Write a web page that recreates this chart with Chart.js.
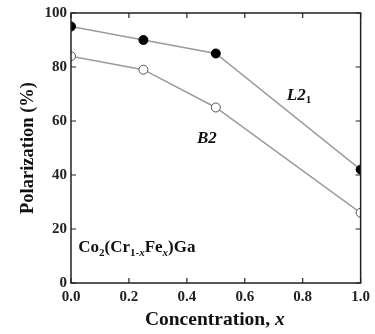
<!DOCTYPE html>
<html>
<head>
<meta charset="utf-8">
<script src="https://cdn.jsdelivr.net/npm/chart.js@4"></script>
<style>
  html, body { margin: 0; padding: 0; background: #fff; }
</style>
</head>
<body>
<canvas id="chart" width="375" height="334"></canvas>
<script>
// composition x and spin polarization (%)
const concentration = [0.0, 0.25, 0.5, 1.0]
const polL21 = [95, 90, 85, 42]
const polB2 = [84, 79, 65, 26]
const xTicks = [0.0, 0.2, 0.4, 0.6, 0.8, 1.0]
const yTicks = [0, 20, 40, 60, 80, 100]

const serif = "'Liberation Serif', 'Times New Roman', serif"

function toPoints(xs, ys) {
    return xs.map((x, i) => ({ x: x, y: ys[i] }))
}

// draw pieces of mixed-style text one after another, return end x
function drawRuns(ctx, parts, x, y) {
    for (const [s, size, italic, dy] of parts) {
        ctx.font = (italic ? "italic " : "") + "bold " + size + "px " + serif
        ctx.fillText(s, x, y + dy)
        x += ctx.measureText(s).width
    }
    return x
}

function runsWidth(ctx, parts) {
    let w = 0
    for (const [s, size, italic] of parts) {
        ctx.font = (italic ? "italic " : "") + "bold " + size + "px " + serif
        w += ctx.measureText(s).width
    }
    return w
}

// frame with inward ticks on all four sides, plus the in-plot labels
const framePlugin = {
    id: "frame",
    afterDatasetsDraw(chart) {
        const { ctx, chartArea: a, scales } = chart
        const xs = scales.x, ys = scales.y
        const len = 5
        ctx.save()
        ctx.strokeStyle = "#222"
        ctx.lineWidth = 1.5
        ctx.strokeRect(a.left, a.top, a.right - a.left, a.bottom - a.top)
        ctx.lineWidth = 1.2
        ctx.beginPath()
        for (const t of xTicks) {
            const px = xs.getPixelForValue(t)
            ctx.moveTo(px, a.bottom); ctx.lineTo(px, a.bottom - len)
            ctx.moveTo(px, a.top); ctx.lineTo(px, a.top + len)
        }
        for (const t of yTicks) {
            const py = ys.getPixelForValue(t)
            ctx.moveTo(a.left, py); ctx.lineTo(a.left + len, py)
            ctx.moveTo(a.right, py); ctx.lineTo(a.right - len, py)
        }
        ctx.stroke()

        ctx.fillStyle = "#111"
        ctx.textBaseline = "middle"
        ctx.textAlign = "left"

        // L2_1
        let x = xs.getPixelForValue(0.745), y = ys.getPixelForValue(69.5)
        drawRuns(ctx, [["L2", 17, true, 0], ["1", 11, false, 5]], x, y)

        // B2
        x = xs.getPixelForValue(0.435); y = ys.getPixelForValue(53.5)
        drawRuns(ctx, [["B2", 17, true, 0]], x, y)

        // Co2(Cr1-xFex)Ga
        x = xs.getPixelForValue(0.025); y = ys.getPixelForValue(13)
        drawRuns(ctx, [
            ["Co", 17, false, 0], ["2", 11, false, 5], ["(Cr", 17, false, 0], ["1-", 11, false, 5],
            ["x", 11, true, 5], ["Fe", 17, false, 0], ["x", 11, true, 5], [")Ga", 17, false, 0],
        ], x, y)

        // x axis title with italic x
        const title = [["Concentration, ", 19.5, false, 0], ["x", 19.5, true, 0]]
        const w = runsWidth(ctx, title)
        drawRuns(ctx, title, (a.left + a.right) / 2 - w / 2 - 1, 320)
        ctx.restore()
    }
}

const canvas = document.getElementById("chart")
new Chart(canvas, {
    type: "line",
    data: {
        datasets: [
            {
                label: "L21",
                data: toPoints(concentration, polL21),
                borderColor: "#9a9a9a",
                borderWidth: 1.5,
                pointRadius: 4.5,
                pointBackgroundColor: "#000",
                pointBorderColor: "#000",
                pointBorderWidth: 1,
            },
            {
                label: "B2",
                data: toPoints(concentration, polB2),
                borderColor: "#9a9a9a",
                borderWidth: 1.5,
                pointRadius: 4.5,
                pointBackgroundColor: "#fff",
                pointBorderColor: "#555",
                pointBorderWidth: 1,
            },
        ],
    },
    options: {
        responsive: false,
        animation: false,
        layout: { padding: { top: 13, right: 12, left: 0, bottom: 0 } },
        plugins: {
            legend: { display: false },
            tooltip: { enabled: false },
        },
        scales: {
            x: {
                type: "linear",
                min: 0,
                max: 1,
                afterBuildTicks: (s) => { s.ticks = xTicks.map(v => ({ value: v })) },
                afterFit: (s) => { s.height = 51 },
                grid: { display: false, drawTicks: false },
                border: { display: false },
                ticks: {
                    color: "#222",
                    padding: 5,
                    maxRotation: 0,
                    font: { family: serif, size: 15, weight: "bold" },
                    callback: (v) => v.toFixed(1),
                },
            },
            y: {
                min: 0,
                max: 100,
                afterBuildTicks: (s) => { s.ticks = yTicks.map(v => ({ value: v })) },
                afterFit: (s) => { s.width = 71 },
                grid: { display: false, drawTicks: false },
                border: { display: false },
                ticks: {
                    color: "#222",
                    padding: 4,
                    font: { family: serif, size: 15, weight: "bold" },
                },
                title: {
                    display: true,
                    text: "Polarization (%)",
                    color: "#111",
                    font: { family: serif, size: 18.5, weight: "bold" },
                    padding: { top: 17, bottom: 0 },
                },
            },
        },
    },
    plugins: [framePlugin],
})
</script>
</body>
</html>
